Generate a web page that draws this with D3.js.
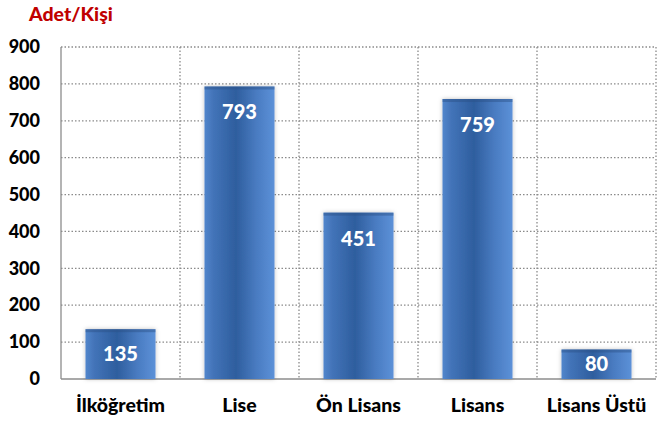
<!DOCTYPE html>
<html><head><meta charset="utf-8">
<script src="https://cdn.jsdelivr.net/npm/d3@7"></script>
<style>
html,body{margin:0;padding:0;background:#fff;}
text{font-family:Lato,"Open Sans",sans-serif;font-weight:900;}
</style></head>
<body>
<svg id="c" width="657" height="423"></svg>
<script>
const categories = ["İlköğretim","Lise","Ön Lisans","Lisans","Lisans Üstü"];
const values = [135,793,451,759,80];
const yTicks = [0,100,200,300,400,500,600,700,800,900];
const yTitle = "Adet/Kişi";

const svg = d3.select("#c");
const m = {left:61, right:656, top:47, bottom:379};
const x = d3.scaleBand().domain(categories).range([m.left,m.right]).paddingInner(0).paddingOuter(0);
const y = d3.scaleLinear().domain([0,900]).range([m.bottom,m.top]);

const defs = svg.append("defs");
const g = defs.append("linearGradient").attr("id","bg").attr("x1","0").attr("x2","1").attr("y1","0").attr("y2","0");
[[0,"#5286cc"],[0.12,"#4374b9"],[0.45,"#2e5e9e"],[0.75,"#4a7cc2"],[1,"#5c91d8"]].forEach(s=>g.append("stop").attr("offset",s[0]).attr("stop-color",s[1]));
const f = defs.append("filter").attr("id","sh").attr("x","-20%").attr("y","-20%").attr("width","140%").attr("height","140%");
f.append("feDropShadow").attr("dx",0).attr("dy",0).attr("stdDeviation",2).attr("flood-color","#000").attr("flood-opacity",0.25);

// grid
const grid = svg.append("g");
yTicks.filter(t=>t>0).forEach(t=>{
  grid.append("line").attr("x1",m.left).attr("x2",m.right).attr("y1",y(t)).attr("y2",y(t))
    .attr("stroke","#8a8a8a").attr("stroke-width",1.3).attr("stroke-dasharray","1.5,2");
});
categories.forEach((c,i)=>{
  const xx = x(c)+x.bandwidth();
  grid.append("line").attr("x1",xx).attr("x2",xx).attr("y1",m.top).attr("y2",m.bottom)
    .attr("stroke","#8a8a8a").attr("stroke-width",1.3).attr("stroke-dasharray","1.5,2");
});

// axes lines
svg.append("line").attr("x1",m.left).attr("x2",m.left).attr("y1",m.top).attr("y2",m.bottom).attr("stroke","#8c8c8c").attr("stroke-width",1.3);
svg.append("line").attr("x1",m.left).attr("x2",m.right).attr("y1",m.bottom).attr("y2",m.bottom).attr("stroke","#8c8c8c").attr("stroke-width",1.3);

// y tick labels
const yAxis = d3.axisLeft(y).tickValues(yTicks).tickSize(0).tickPadding(21);
const ya = svg.append("g").attr("transform",`translate(${m.left},0)`).call(yAxis);
ya.select(".domain").remove();
ya.selectAll("text").attr("font-size",18).attr("fill","#000").attr("font-family","Lato,sans-serif").attr("font-weight","900");

// x labels
const xAxis = d3.axisBottom(x).tickSize(0).tickPadding(19);
const xa = svg.append("g").attr("transform",`translate(0,${m.bottom})`).call(xAxis);
xa.select(".domain").remove();
xa.selectAll("text").attr("font-size",19.5).attr("fill","#000").attr("font-family","Lato,sans-serif").attr("font-weight","900");

// bars
const bw = 70;
const bars = svg.append("g");
categories.forEach((c,i)=>{
  const cx = x(c)+x.bandwidth()/2;
  const top = y(values[i]);
  bars.append("rect").attr("x",cx-bw/2).attr("y",top).attr("width",bw).attr("height",m.bottom-top)
    .attr("fill","url(#bg)").attr("filter","url(#sh)");
  bars.append("rect").attr("x",cx-bw/2).attr("y",top).attr("width",bw).attr("height",3)
    .attr("fill","#2a4f85").attr("opacity",0.45);
  const h = m.bottom-top;
  const base = h > 70 ? top+33 : top + h/2 + 7;
  bars.append("text").attr("x",cx).attr("y",base).attr("text-anchor","middle")
    .attr("font-size",20).attr("fill","#fff").text(values[i]);
});

// title
svg.append("text").attr("x",29).attr("y",21).attr("font-size",19.5).attr("fill","#c00000").text(yTitle);
</script>
</body></html>
